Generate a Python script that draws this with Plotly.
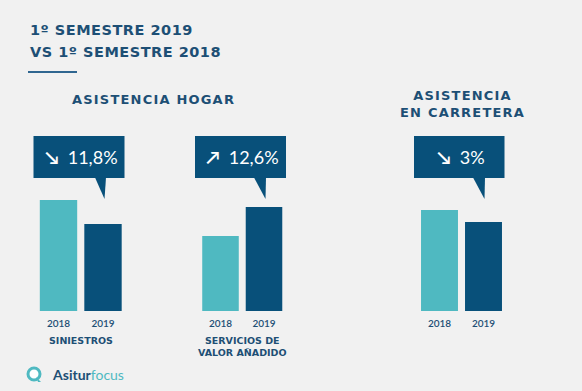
import plotly.graph_objects as go

W, H = 582, 391

# ---- data ----
years = ["2018", "2019"]
siniestros = [111, 87]
servicios = [75, 104]
carretera = [101, 89]
arrows = ["↘", "↗", "↘"]
changes = ["11,8%", "12,6%", "3%"]
group_labels = ["SINIESTROS", "SERVICIOS DE<br>VALOR AÑADIDO", ""]
section_titles = ["ASISTENCIA HOGAR", "ASISTENCIA<br>EN CARRETERA"]
title_lines = ["1º SEMESTRE 2019", "VS 1º SEMESTRE 2018"]

TEAL = "#4fb9c1"
DARK = "#08507a"
TXT = "#1d4f75"
BG = "#f1f1f1"

def px(x):
    return x / W

def py(y):
    return 1 - y / H

def spaced(t, sp):
    return f"<span style='letter-spacing:{sp}px'><b>{t}</b></span>"

fig = go.Figure()
series = [siniestros, servicios, carretera]
domains = [(36.25, 125.25), (198.75, 285.75), (417.5, 505.5)]
for i, vals in enumerate(series):
    ax = "" if i == 0 else str(i + 1)
    fig.add_trace(go.Bar(x=years, y=vals, marker=dict(color=[TEAL, DARK], line=dict(width=0)),
                         xaxis="x" + ax, yaxis="y" + ax, hoverinfo="skip", showlegend=False))
    d = domains[i]
    fig.update_layout(**{
        "xaxis" + ax: dict(domain=[px(d[0]), px(d[1])], type="category", showgrid=False,
                           zeroline=False, showline=False, ticks="", ticklabelstandoff=5,
                           tickfont=dict(family="Lato", size=10, color=TXT, weight=600),
                           anchor="y" + ax),
        "yaxis" + ax: dict(domain=[py(311), py(191)], range=[0, 120], visible=False,
                           anchor="x" + ax),
    })

fig.update_layout(bargap=0.16)

shapes = []
annotations = []

# title
for txt, yy in zip(title_lines, [30, 52]):
    annotations.append(dict(x=px(28), y=py(yy), xref="paper", yref="paper", xanchor="left",
                            yanchor="middle", showarrow=False, text=spaced(txt, 0.5),
                            font=dict(family="DejaVu Sans", size=14.5, color=TXT)))
shapes.append(dict(type="line", xref="paper", yref="paper", x0=px(28), x1=px(77),
                   y0=py(72), y1=py(72), line=dict(color="#2f6690", width=2)))

# section titles
annotations.append(dict(x=px(153), y=py(100), xref="paper", yref="paper", xanchor="center",
                        yanchor="middle", showarrow=False, text=spaced(section_titles[0], 1.2),
                        font=dict(family="DejaVu Sans", size=13, color=TXT)))
annotations.append(dict(x=px(463), y=py(104), xref="paper", yref="paper", xanchor="center",
                        yanchor="middle", showarrow=False,
                        text="<br>".join(spaced(s, 1.2) for s in section_titles[1].split("<br>")),
                        font=dict(family="DejaVu Sans", size=13, color=TXT)))

# callouts
boxes = [(33.5, 124.5, 95, 106, 104.5), (195, 286, 254, 266, 265.5), (414, 504.5, 473, 485, 484.5)]
for (x0, x1, t0, t1, tip), arr, lab in zip(boxes, arrows, changes):
    shapes.append(dict(type="rect", xref="paper", yref="paper", x0=px(x0), x1=px(x1),
                       y0=py(178), y1=py(136), fillcolor=DARK, line=dict(width=0)))
    shapes.append(dict(type="path", xref="paper", yref="paper",
                       path=f"M {px(t0)} {py(177.5)} L {px(t1)} {py(177.5)} L {px(tip)} {py(199)} Z",
                       fillcolor=DARK, line=dict(width=0)))
    annotations.append(dict(x=px((x0 + x1) / 2 + 2), y=py(157), xref="paper", yref="paper",
                            xanchor="center", yanchor="middle", showarrow=False,
                            text=f"<b>{arr}</b><span style='letter-spacing:0px'> </span> {lab}",
                            font=dict(family="Lato", size=18, color="white")))

# group labels
for i, lab in enumerate(group_labels):
    if not lab:
        continue
    d = domains[i]
    annotations.append(dict(x=px((d[0] + d[1]) / 2), y=py(333), xref="paper", yref="paper",
                            xanchor="center", yanchor="top", showarrow=False, text="<b>" + lab + "</b>",
                            font=dict(family="DejaVu Sans", size=9.5, color=TXT)))

# logo
shapes.append(dict(type="circle", xref="paper", yref="paper", x0=px(28), x1=px(40),
                   y0=py(380), y1=py(368), fillcolor="white", line=dict(color=TEAL, width=3)))
shapes.append(dict(type="path", xref="paper", yref="paper",
                   path=f"M {px(36)} {py(377)} L {px(41)} {py(382)} L {px(38)} {py(382)} Z",
                   fillcolor=TEAL, line=dict(width=0)))
annotations.append(dict(x=px(50), y=py(374), xref="paper", yref="paper", xanchor="left",
                        yanchor="middle", showarrow=False,
                        text=f"<span style='color:{TXT}'><b>Asitur</b></span><span style='color:{TEAL}'>focus</span>",
                        font=dict(family="Lato", size=14, color=TXT)))

fig.update_layout(width=W, height=H, margin=dict(l=0, r=0, t=0, b=0),
                  paper_bgcolor=BG, plot_bgcolor=BG, shapes=shapes, annotations=annotations)

fig.write_html("out.html", config=dict(displayModeBar=False),
               post_script="document.body.style.margin='0';document.body.style.overflow='hidden';document.body.style.background='#f1f1f1';")
